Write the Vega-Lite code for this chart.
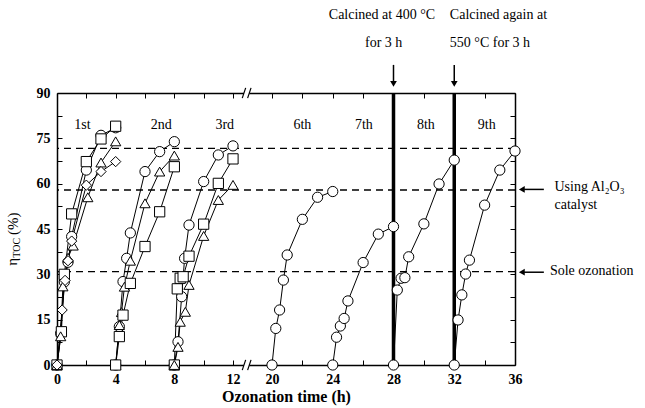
{
  "$schema": "https://vega.github.io/schema/vega-lite/v6.json",
  "width": 458,
  "height": 272,
  "autosize": "none",
  "padding": {"left": 57, "top": 93, "right": 130, "bottom": 43},
  "config": {"view": {"stroke": null}, "font": "Liberation Serif"},
  "resolve": {"scale": {"x": "shared", "y": "shared"}, "axis": {"x": "independent", "y": "independent"}},
  "datasets": {
    "pts": [
      {"c":1,"s":"circle","t":0,"v":0},{"c":1,"s":"circle","t":0.25,"v":10.5},{"c":1,"s":"circle","t":0.5,"v":27.5},{"c":1,"s":"circle","t":0.75,"v":34},{"c":1,"s":"circle","t":1,"v":42.5},{"c":1,"s":"circle","t":2,"v":64.5},{"c":1,"s":"circle","t":3,"v":76},{"c":1,"s":"circle","t":4,"v":78.5},
      {"c":1,"s":"square","t":0,"v":0},{"c":1,"s":"square","t":0.3,"v":11},{"c":1,"s":"square","t":0.5,"v":30},{"c":1,"s":"square","t":1,"v":50},{"c":1,"s":"square","t":2,"v":67.3},{"c":1,"s":"square","t":3,"v":74.8},{"c":1,"s":"square","t":4,"v":79},
      {"c":1,"s":"triangle","t":0,"v":0},{"c":1,"s":"triangle","t":0.25,"v":9.5},{"c":1,"s":"triangle","t":0.4,"v":26},{"c":1,"s":"triangle","t":0.75,"v":35.5},{"c":1,"s":"triangle","t":1.1,"v":39.5},{"c":1,"s":"triangle","t":2.1,"v":55.5},{"c":1,"s":"triangle","t":3,"v":67},{"c":1,"s":"triangle","t":4,"v":74},
      {"c":1,"s":"diamond","t":0,"v":0},{"c":1,"s":"diamond","t":0.35,"v":18.2},{"c":1,"s":"diamond","t":0.55,"v":28},{"c":1,"s":"diamond","t":0.75,"v":34.5},{"c":1,"s":"diamond","t":1,"v":41},{"c":1,"s":"diamond","t":2,"v":59.5},{"c":1,"s":"diamond","t":3,"v":64},{"c":1,"s":"diamond","t":4,"v":67.3},
      {"c":2,"s":"circle","t":4,"v":0},{"c":2,"s":"circle","t":4.25,"v":12.7},{"c":2,"s":"circle","t":4.5,"v":27.6},{"c":2,"s":"circle","t":4.75,"v":35.3},{"c":2,"s":"circle","t":5,"v":43.7},{"c":2,"s":"circle","t":6,"v":64},{"c":2,"s":"circle","t":7,"v":70.6},{"c":2,"s":"circle","t":8,"v":73.9},
      {"c":2,"s":"triangle","t":4,"v":0},{"c":2,"s":"triangle","t":4.25,"v":13.2},{"c":2,"s":"triangle","t":4.4,"v":17.5},{"c":2,"s":"triangle","t":4.6,"v":25.9},{"c":2,"s":"triangle","t":5,"v":34.5},{"c":2,"s":"triangle","t":6,"v":53.5},{"c":2,"s":"triangle","t":7,"v":64},{"c":2,"s":"triangle","t":8,"v":69.3},
      {"c":2,"s":"square","t":4,"v":0},{"c":2,"s":"square","t":4.25,"v":9.4},{"c":2,"s":"square","t":4.5,"v":16.5},{"c":2,"s":"square","t":5,"v":27},{"c":2,"s":"square","t":6,"v":39.2},{"c":2,"s":"square","t":7,"v":50.7},{"c":2,"s":"square","t":8,"v":65.6},
      {"c":3,"s":"circle","t":8,"v":0},{"c":3,"s":"circle","t":8.25,"v":7.7},{"c":3,"s":"circle","t":8.5,"v":22.6},{"c":3,"s":"circle","t":8.7,"v":35.3},{"c":3,"s":"circle","t":9,"v":46.3},{"c":3,"s":"circle","t":10,"v":60.7},{"c":3,"s":"circle","t":11,"v":69.5},{"c":3,"s":"circle","t":12,"v":72.5},
      {"c":3,"s":"square","t":8,"v":0},{"c":3,"s":"square","t":8.2,"v":25.2},{"c":3,"s":"square","t":8.4,"v":28.7},{"c":3,"s":"square","t":8.6,"v":29.2},{"c":3,"s":"square","t":9,"v":36},{"c":3,"s":"square","t":10,"v":46.6},{"c":3,"s":"square","t":11,"v":60.1},{"c":3,"s":"square","t":12,"v":68.2},
      {"c":3,"s":"triangle","t":8,"v":0},{"c":3,"s":"triangle","t":8.25,"v":6},{"c":3,"s":"triangle","t":8.4,"v":14.3},{"c":3,"s":"triangle","t":8.75,"v":17.6},{"c":3,"s":"triangle","t":9,"v":26.5},{"c":3,"s":"triangle","t":10,"v":42.7},{"c":3,"s":"triangle","t":11,"v":54.6},{"c":3,"s":"triangle","t":12,"v":59.6},
      {"c":6,"s":"circle","t":20,"v":0},{"c":6,"s":"circle","t":20.25,"v":12.1},{"c":6,"s":"circle","t":20.5,"v":18.2},{"c":6,"s":"circle","t":20.75,"v":28.1},{"c":6,"s":"circle","t":21,"v":36.4},{"c":6,"s":"circle","t":22,"v":48.2},{"c":6,"s":"circle","t":23,"v":55.5},{"c":6,"s":"circle","t":24,"v":57.4},
      {"c":7,"s":"circle","t":24,"v":0},{"c":7,"s":"circle","t":24.25,"v":9.2},{"c":7,"s":"circle","t":24.5,"v":12.9},{"c":7,"s":"circle","t":24.75,"v":15.4},{"c":7,"s":"circle","t":25,"v":21.2},{"c":7,"s":"circle","t":26,"v":33.9},{"c":7,"s":"circle","t":27,"v":43.3},{"c":7,"s":"circle","t":28,"v":45.8},
      {"c":8,"s":"circle","t":28,"v":0},{"c":8,"s":"circle","t":28.25,"v":24.8},{"c":8,"s":"circle","t":28.5,"v":28.7},{"c":8,"s":"circle","t":28.75,"v":28.9},{"c":8,"s":"circle","t":29,"v":35.8},{"c":8,"s":"circle","t":30,"v":46.7},{"c":8,"s":"circle","t":31,"v":59.9},{"c":8,"s":"circle","t":32,"v":67.8},
      {"c":9,"s":"circle","t":32,"v":0},{"c":9,"s":"circle","t":32.25,"v":14.9},{"c":9,"s":"circle","t":32.5,"v":23.2},{"c":9,"s":"circle","t":32.75,"v":30.1},{"c":9,"s":"circle","t":33,"v":34.7},{"c":9,"s":"circle","t":34,"v":52.9},{"c":9,"s":"circle","t":35,"v":64.5},{"c":9,"s":"circle","t":36,"v":70.8}
    ]
  },
  "layer": [
    {
      "data": {"values": [{"y": 71.7}, {"y": 57.9}, {"y": 30.9}]},
      "mark": {"type": "rule", "color": "black", "strokeWidth": 1.3, "strokeDash": [7, 5]},
      "encoding": {
        "y": {"field": "y", "type": "quantitative", "scale": {"domain": [0, 90], "nice": false},
          "axis": {"orient": "right", "values": [0,7.5,15,22.5,30,37.5,45,52.5,60,67.5,75,82.5,90], "labels": false, "title": null, "grid": false, "tickSize": -5, "tickColor": "black", "domainColor": "black", "domainWidth": 1.5}}
      }
    },
    {
      "data": {"values": [{"x": 28}, {"x": 32}]},
      "mark": {"type": "rule", "color": "black", "strokeWidth": 3.5},
      "encoding": {
        "x": {"field": "x", "type": "quantitative", "scale": {"domain": [0, 12, 20, 36], "range": [0, 176, 215, 458], "nice": false, "zero": false},
          "axis": {"orient": "top", "values": [0,2,4,6,8,10,12,20,22,24,26,28,30,32,34,36], "labels": false, "title": null, "grid": false, "tickSize": -5, "tickColor": "black", "domainColor": "black", "domainWidth": 1.5}}
      }
    },
    {
      "data": {"name": "pts"},
      "mark": {"type": "line", "color": "black", "strokeWidth": 1},
      "encoding": {
        "x": {"field": "t", "type": "quantitative",
          "axis": {"orient": "bottom", "values": [0,2,4,6,8,10,12,20,22,24,26,28,30,32,34,36], "labelExpr": "datum.value % 4 === 0 ? datum.label : ''", "labelOverlap": false, "labelFlush": false, "title": "Ozonation time (h)", "titleFont": "Liberation Serif", "titleFontWeight": "bold", "titleFontSize": 16, "titleColor": "black", "titlePadding": 2, "grid": false, "tickSize": -5, "tickColor": "black", "domainColor": "black", "domainWidth": 1.5, "labelFont": "Liberation Serif", "labelFontWeight": "bold", "labelFontSize": 14, "labelColor": "black", "labelPadding": 12}},
        "y": {"field": "v", "type": "quantitative",
          "axis": {"orient": "left", "values": [0,7.5,15,22.5,30,37.5,45,52.5,60,67.5,75,82.5,90], "labelExpr": "datum.value % 15 === 0 ? datum.label : ''", "labelOverlap": false, "labelFlush": false, "title": null, "grid": false, "tickSize": -5, "tickColor": "black", "domainColor": "black", "domainWidth": 1.5, "labelFont": "Liberation Serif", "labelFontWeight": "bold", "labelFontSize": 14, "labelColor": "black", "labelPadding": 12}},
        "detail": [{"field": "c"}, {"field": "s"}],
        "order": {"field": "t", "type": "quantitative"}
      }
    },
    {
      "data": {"name": "pts"},
      "mark": {"type": "point", "filled": true, "fill": "white", "stroke": "black", "strokeWidth": 1, "size": 105, "opacity": 1},
      "encoding": {
        "x": {"field": "t", "type": "quantitative", "axis": null},
        "y": {"field": "v", "type": "quantitative", "axis": null},
        "shape": {"field": "s", "type": "nominal", "legend": null, "scale": {"domain": ["circle", "square", "triangle", "diamond"], "range": ["circle", "square", "triangle-up", "diamond"]}}
      }
    },
    {
      "data": {"values": [{"x": 1.73, "y": 79.4, "text": "1st"}, {"x": 7.1, "y": 79.4, "text": "2nd"}, {"x": 11.44, "y": 79.4, "text": "3rd"}, {"x": 22.0, "y": 79.4, "text": "6th"}, {"x": 26.05, "y": 79.4, "text": "7th"}, {"x": 30.13, "y": 79.4, "text": "8th"}, {"x": 34.14, "y": 79.4, "text": "9th"}]},
      "mark": {"type": "text", "font": "Liberation Serif", "fontSize": 14, "color": "black", "align": "center", "baseline": "middle"},
      "encoding": {
        "x": {"field": "x", "type": "quantitative", "axis": null},
        "y": {"field": "y", "type": "quantitative", "axis": null},
        "text": {"field": "text"}
      }
    },
    {
      "data": {"values": [{"x": 27.24, "y": 115.8, "text": "Calcined at 400 °C"}, {"x": 27.35, "y": 106.5, "text": "for 3 h"}]},
      "mark": {"type": "text", "font": "Liberation Serif", "fontSize": 14, "color": "black", "align": "center", "baseline": "middle", "clip": false},
      "encoding": {
        "x": {"field": "x", "type": "quantitative", "axis": null},
        "y": {"field": "y", "type": "quantitative", "axis": null},
        "text": {"field": "text"}
      }
    },
    {
      "data": {"values": [{"x": 31.71, "y": 115.8, "text": "Calcined again at"}, {"x": 31.71, "y": 106.5, "text": "550 °C for 3 h"}, {"x": 38.6, "y": 58.9, "text": "Using Al₂O₃"}, {"x": 38.6, "y": 53.0, "text": "catalyst"}, {"x": 38.3, "y": 31.0, "text": "Sole ozonation"}]},
      "mark": {"type": "text", "font": "Liberation Serif", "fontSize": 14, "color": "black", "align": "left", "baseline": "middle", "clip": false},
      "encoding": {
        "x": {"field": "x", "type": "quantitative", "axis": null},
        "y": {"field": "y", "type": "quantitative", "axis": null},
        "text": {"field": "text"}
      }
    },
    {
      "data": {"values": [{"x": 28, "y": 93.5, "y2": 99.3}, {"x": 32, "y": 93.5, "y2": 99.3}]},
      "mark": {"type": "rule", "color": "black", "strokeWidth": 1.5, "clip": false},
      "encoding": {
        "x": {"field": "x", "type": "quantitative", "axis": null},
        "y": {"field": "y", "type": "quantitative", "axis": null},
        "y2": {"field": "y2"}
      }
    },
    {
      "data": {"values": [{"x": 28, "y": 93.0}, {"x": 32, "y": 93.0}]},
      "mark": {"type": "point", "shape": "triangle-down", "filled": true, "color": "black", "size": 45, "opacity": 1, "clip": false},
      "encoding": {
        "x": {"field": "x", "type": "quantitative", "axis": null},
        "y": {"field": "y", "type": "quantitative", "axis": null}
      }
    },
    {
      "data": {"values": [{"x": 36.6, "x2": 37.9, "y": 58.1}, {"x": 36.6, "x2": 37.9, "y": 30.7}]},
      "mark": {"type": "rule", "color": "black", "strokeWidth": 1.5, "clip": false},
      "encoding": {
        "x": {"field": "x", "type": "quantitative", "axis": null},
        "x2": {"field": "x2"},
        "y": {"field": "y", "type": "quantitative", "axis": null}
      }
    },
    {
      "data": {"values": [{"x": 36.45, "y": 58.1}, {"x": 36.45, "y": 30.7}]},
      "mark": {"type": "point", "shape": "triangle-left", "filled": true, "color": "black", "size": 45, "opacity": 1, "clip": false},
      "encoding": {
        "x": {"field": "x", "type": "quantitative", "axis": null},
        "y": {"field": "y", "type": "quantitative", "axis": null}
      }
    },
    {
      "data": {"values": [{"x": 14.25, "x2": 15.35, "y": 90}, {"x": 14.25, "x2": 15.35, "y": 0}]},
      "mark": {"type": "rule", "color": "white", "strokeWidth": 4, "clip": false},
      "encoding": {
        "x": {"field": "x", "type": "quantitative", "axis": null},
        "x2": {"field": "x2"},
        "y": {"field": "y", "type": "quantitative", "axis": null}
      }
    },
    {
      "data": {"values": [{"x": 13.9, "x2": 14.6, "y": 88.3, "y2": 91.7}, {"x": 15.0, "x2": 15.7, "y": 88.3, "y2": 91.7}, {"x": 13.9, "x2": 14.6, "y": -1.7, "y2": 1.7}, {"x": 15.0, "x2": 15.7, "y": -1.7, "y2": 1.7}]},
      "mark": {"type": "rule", "color": "black", "strokeWidth": 1.2, "clip": false},
      "encoding": {
        "x": {"field": "x", "type": "quantitative", "axis": null},
        "x2": {"field": "x2"},
        "y": {"field": "y", "type": "quantitative", "axis": null},
        "y2": {"field": "y2"}
      }
    },
    {
      "data": {"values": [{"x": -3.08, "y": 34.1, "text": "η"}, {"x": -3.01, "y": 46.7, "text": "(%)"}]},
      "mark": {"type": "text", "font": "Liberation Serif", "fontSize": 15, "color": "black", "align": "center", "baseline": "middle", "angle": 270, "clip": false},
      "encoding": {
        "x": {"field": "x", "type": "quantitative", "axis": null},
        "y": {"field": "y", "type": "quantitative", "axis": null},
        "text": {"field": "text"}
      }
    },
    {
      "data": {"values": [{"x": -2.75, "y": 38.8, "text": "TOC"}]},
      "mark": {"type": "text", "font": "Liberation Serif", "fontSize": 10, "color": "black", "align": "center", "baseline": "middle", "angle": 270, "clip": false},
      "encoding": {
        "x": {"field": "x", "type": "quantitative", "axis": null},
        "y": {"field": "y", "type": "quantitative", "axis": null},
        "text": {"field": "text"}
      }
    }
  ]
}
